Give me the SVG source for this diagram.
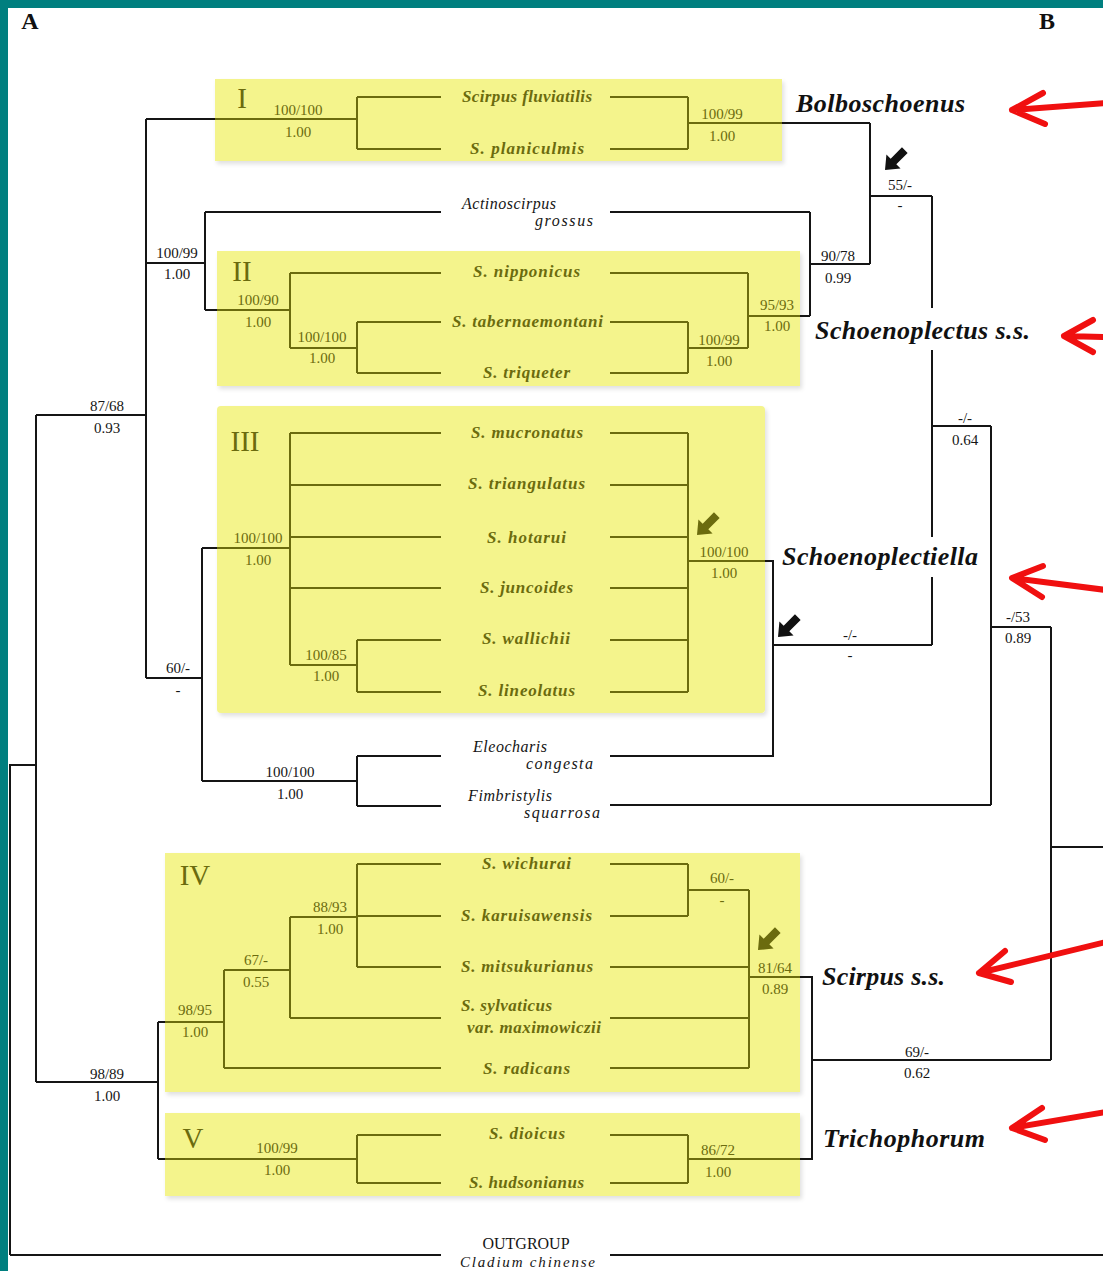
<svg xmlns="http://www.w3.org/2000/svg" width="1103" height="1271" viewBox="0 0 1103 1271">
<style>
.br{fill:none;stroke:#151515;stroke-width:2}
.ol{fill:none;stroke:#6b6b0e;stroke-width:2}
.box{fill:#f4f48c}
.tx{font-family:"Liberation Serif","Times New Roman",serif;font-style:italic;font-weight:bold;font-size:17px;fill:#6b6b0e}
.txb{font-family:"Liberation Serif","Times New Roman",serif;font-style:italic;font-size:16px;fill:#151515}
.sb{font-family:"Liberation Serif","Times New Roman",serif;font-size:15px;fill:#151515;text-anchor:middle}
.so{font-family:"Liberation Serif","Times New Roman",serif;font-size:15px;fill:#6b6b0e;text-anchor:middle}
.rn{font-family:"Liberation Serif","Times New Roman",serif;font-size:29px;fill:#6b6b0e;text-anchor:middle}
.grp{font-family:"Liberation Serif","Times New Roman",serif;font-style:italic;font-weight:bold;font-size:26px;fill:#111}
.lt{font-family:"Liberation Serif","Times New Roman",serif;font-weight:bold;font-size:24px;fill:#111;text-anchor:middle}
.red{fill:none;stroke:#f01010;stroke-width:6;stroke-linecap:round;stroke-linejoin:round}
</style>
<defs>
<filter id="sh" x="-5%" y="-10%" width="110%" height="130%">
<feDropShadow dx="2" dy="3" stdDeviation="2" flood-color="#000" flood-opacity="0.12"/>
</filter>
<path id="barrow" d="M0,0 L-12,-10 L-12,-4 L-28,-4 L-28,4 L-12,4 L-12,10 Z" transform="rotate(135)"/>
</defs>
<rect x="0" y="0" width="1103" height="1271" fill="#ffffff"/>
<rect x="0" y="0" width="1103" height="8" fill="#007f7f"/>
<rect x="0" y="0" width="8" height="1271" fill="#007f7f"/>
<text class="lt" x="30" y="29">A</text>
<text class="lt" x="1047" y="29">B</text>

<g id="clade-I"><rect class="box" x="215" y="79" width="567" height="82" filter="url(#sh)"/><text class="rn" x="242" y="108">I</text></g>
<g id="clade-II"><rect class="box" x="217" y="251" width="583" height="135" filter="url(#sh)"/><text class="rn" x="242" y="281">II</text></g>
<g id="clade-III"><rect class="box" x="217" y="406" width="548" height="307" rx="4" filter="url(#sh)"/><text class="rn" x="245" y="451">III</text></g>
<g id="clade-IV"><rect class="box" x="165" y="853" width="635" height="239" filter="url(#sh)"/><text class="rn" x="195" y="885">IV</text></g>
<g id="clade-V"><rect class="box" x="165" y="1113" width="635" height="83" filter="url(#sh)"/><text class="rn" x="193" y="1148">V</text></g>

<g id="connectors">
<path class="br" d="M10,1255 V765 H36 M10,1255 H441 M610,1255 H1103
M36,415 V1082 M36,415 H146 M36,1082 H158
M146,119 V678 M146,119 H215 M146,263 H205 M146,678 H202
M205,212 V310 M205,212 H441 M205,310 H217
M610,212 H810 M810,212 V316 M800,316 H810 M810,264 H870
M782,123 H870 M870,123 V264 M870,196 H932
M932,196 V308 M932,350 V537 M932,577 V645 M773,645 H932 M932,426 H991
M202,548 V781 M202,548 H217 M202,781 H357 M357,756 V806 M357,756 H441 M357,806 H441
M765,561 H773 V756 H610
M610,805 H991 M991,426 V805 M991,627 H1051 M1051,627 V1060 M1051,847 H1103 M812,1060 H1051
M158,1022 V1159 M158,1022 H165 M158,1159 H165
M800,977 H812 V1159 H800"/>
<path class="ol" d="M215,119 H357 M357,97 V149 M357,97 H441 M357,149 H441 M610,97 H688 M610,149 H688 M688,97 V149 M688,123 H782
M217,310 H290 M290,273 V348 M290,273 H441 M290,348 H357 M357,322 V373 M357,322 H441 M357,373 H441 M610,273 H748 M610,322 H688 M610,373 H688 M688,322 V373 M688,348 H748 M748,273 V348 M748,316 H800
M217,548 H290 M290,433 V665 M290,433 H441 M290,485 H441 M290,537 H441 M290,588 H441 M290,665 H357 M357,640 V692 M357,640 H441 M357,692 H441
M610,433 H688 M610,485 H688 M610,537 H688 M610,588 H688 M610,640 H688 M610,692 H688 M688,433 V692 M688,561 H765
M165,1022 H224 M224,970 V1068 M224,970 H290 M224,1068 H441 M290,917 V1018 M290,917 H357 M290,1018 H441 M357,864 V967 M357,864 H441 M357,916 H441 M357,967 H441
M610,864 H688 M610,916 H688 M688,864 V916 M688,890 H749 M749,890 V1068 M610,967 H749 M610,1018 H749 M610,1068 H749 M749,977 H800
M165,1159 H357 M357,1135 V1183 M357,1135 H441 M357,1183 H441 M610,1135 H688 M610,1183 H688 M688,1135 V1183 M688,1159 H800"/>
</g>

<g id="support-values">
<text class="sb" x="177" y="258">100/99</text><text class="sb" x="177" y="279">1.00</text>
<text class="sb" x="107" y="411">87/68</text><text class="sb" x="107" y="433">0.93</text>
<text class="sb" x="178" y="673">60/-</text><text class="sb" x="178" y="695">-</text>
<text class="sb" x="290" y="777">100/100</text><text class="sb" x="290" y="799">1.00</text>
<text class="sb" x="107" y="1079">98/89</text><text class="sb" x="107" y="1101">1.00</text>
<text class="sb" x="838" y="261">90/78</text><text class="sb" x="838" y="283">0.99</text>
<text class="sb" x="900" y="190">55/-</text><text class="sb" x="900" y="210">-</text>
<text class="sb" x="965" y="423">-/-</text><text class="sb" x="965" y="445">0.64</text>
<text class="sb" x="850" y="640">-/-</text><text class="sb" x="850" y="660">-</text>
<text class="sb" x="1018" y="622">-/53</text><text class="sb" x="1018" y="643">0.89</text>
<text class="sb" x="917" y="1057">69/-</text><text class="sb" x="917" y="1078">0.62</text>
<text class="so" x="298" y="115">100/100</text><text class="so" x="298" y="137">1.00</text>
<text class="so" x="722" y="119">100/99</text><text class="so" x="722" y="141">1.00</text>
<text class="so" x="258" y="305">100/90</text><text class="so" x="258" y="327">1.00</text>
<text class="so" x="322" y="342">100/100</text><text class="so" x="322" y="363">1.00</text>
<text class="so" x="719" y="345">100/99</text><text class="so" x="719" y="366">1.00</text>
<text class="so" x="777" y="310">95/93</text><text class="so" x="777" y="331">1.00</text>
<text class="so" x="258" y="543">100/100</text><text class="so" x="258" y="565">1.00</text>
<text class="so" x="326" y="660">100/85</text><text class="so" x="326" y="681">1.00</text>
<text class="so" x="724" y="557">100/100</text><text class="so" x="724" y="578">1.00</text>
<text class="so" x="330" y="912">88/93</text><text class="so" x="330" y="934">1.00</text>
<text class="so" x="256" y="965">67/-</text><text class="so" x="256" y="987">0.55</text>
<text class="so" x="195" y="1015">98/95</text><text class="so" x="195" y="1037">1.00</text>
<text class="so" x="722" y="883">60/-</text><text class="so" x="722" y="905">-</text>
<text class="so" x="775" y="973">81/64</text><text class="so" x="775" y="994">0.89</text>
<text class="so" x="277" y="1153">100/99</text><text class="so" x="277" y="1175">1.00</text>
<text class="so" x="718" y="1155">86/72</text><text class="so" x="718" y="1177">1.00</text>
</g>

<g id="taxa">
<g id="t-fluviatilis"><text class="tx" x="462" y="102" textLength="130" lengthAdjust="spacing">Scirpus fluviatilis</text></g>
<g id="t-planiculmis"><text class="tx" x="470" y="154" textLength="114" lengthAdjust="spacing">S. planiculmis</text></g>
<g id="t-grossus"><text class="txb" x="462" y="209" textLength="94" lengthAdjust="spacing">Actinoscirpus</text><text class="txb" x="535" y="226" textLength="58" lengthAdjust="spacing">grossus</text></g>
<g id="t-nipponicus"><text class="tx" x="473" y="277" textLength="107" lengthAdjust="spacing">S. nipponicus</text></g>
<g id="t-tabernaemontani"><text class="tx" x="452" y="327" textLength="151" lengthAdjust="spacing">S. tabernaemontani</text></g>
<g id="t-triqueter"><text class="tx" x="483" y="378" textLength="87" lengthAdjust="spacing">S. triqueter</text></g>
<g id="t-mucronatus"><text class="tx" x="471" y="438" textLength="112" lengthAdjust="spacing">S. mucronatus</text></g>
<g id="t-triangulatus"><text class="tx" x="468" y="489" textLength="117" lengthAdjust="spacing">S. triangulatus</text></g>
<g id="t-hotarui"><text class="tx" x="487" y="543" textLength="79" lengthAdjust="spacing">S. hotarui</text></g>
<g id="t-juncoides"><text class="tx" x="480" y="593" textLength="93" lengthAdjust="spacing">S. juncoides</text></g>
<g id="t-wallichii"><text class="tx" x="482" y="644" textLength="88" lengthAdjust="spacing">S. wallichii</text></g>
<g id="t-lineolatus"><text class="tx" x="478" y="696" textLength="97" lengthAdjust="spacing">S. lineolatus</text></g>
<g id="t-congesta"><text class="txb" x="473" y="752" textLength="74" lengthAdjust="spacing">Eleocharis</text><text class="txb" x="526" y="769" textLength="67" lengthAdjust="spacing">congesta</text></g>
<g id="t-squarrosa"><text class="txb" x="468" y="801" textLength="84" lengthAdjust="spacing">Fimbristylis</text><text class="txb" x="524" y="818" textLength="76" lengthAdjust="spacing">squarrosa</text></g>
<g id="t-wichurai"><text class="tx" x="482" y="869" textLength="89" lengthAdjust="spacing">S. wichurai</text></g>
<g id="t-karuisawensis"><text class="tx" x="461" y="921" textLength="131" lengthAdjust="spacing">S. karuisawensis</text></g>
<g id="t-mitsukurianus"><text class="tx" x="461" y="972" textLength="132" lengthAdjust="spacing">S. mitsukurianus</text></g>
<g id="t-sylvaticus"><text class="tx" x="461" y="1011" textLength="91" lengthAdjust="spacing">S. sylvaticus</text><text class="tx" x="467" y="1033" textLength="134" lengthAdjust="spacing">var. maximowiczii</text></g>
<g id="t-radicans"><text class="tx" x="483" y="1074" textLength="87" lengthAdjust="spacing">S. radicans</text></g>
<g id="t-dioicus"><text class="tx" x="489" y="1139" textLength="76" lengthAdjust="spacing">S. dioicus</text></g>
<g id="t-hudsonianus"><text class="tx" x="469" y="1188" textLength="115" lengthAdjust="spacing">S. hudsonianus</text></g>
<g id="t-outgroup"><text class="sb" x="526" y="1249" style="font-size:16px">OUTGROUP</text><text class="txb" x="460" y="1267" textLength="135" lengthAdjust="spacing" style="font-size:15px">Cladium chinense</text></g>
</g>

<g id="genus-labels">
<g id="g-bolboschoenus"><text class="grp" x="796" y="112" textLength="169" lengthAdjust="spacing">Bolboschoenus</text></g>
<g id="g-schoenoplectus"><text class="grp" x="815" y="339" textLength="215" lengthAdjust="spacing">Schoenoplectus s.s.</text></g>
<g id="g-schoenoplectiella"><text class="grp" x="782" y="565" textLength="196" lengthAdjust="spacing">Schoenoplectiella</text></g>
<g id="g-scirpus"><text class="grp" x="822" y="985" textLength="123" lengthAdjust="spacing">Scirpus s.s.</text></g>
<g id="g-trichophorum"><text class="grp" x="823" y="1147" textLength="162" lengthAdjust="spacing">Trichophorum</text></g>
</g>

<g id="markers">
<use href="#barrow" x="885" y="170" fill="#111"/>
<use href="#barrow" x="778" y="637" fill="#111"/>
<use href="#barrow" x="697" y="535" fill="#6b6b0e"/>
<use href="#barrow" x="758" y="950" fill="#6b6b0e"/>
</g>

<g id="red-arrows">
<path class="red" d="M1106,103 L1012,110 M1043,93 L1012,110 L1045,124"/>
<path class="red" d="M1106,337 L1064,336 M1093,320 L1064,336 L1093,352"/>
<path class="red" d="M1106,590 L1012,578 M1043,566 L1012,578 L1042,597"/>
<path class="red" d="M1106,942 L979,973 M1005,951 L979,973 L1011,982"/>
<path class="red" d="M1106,1112 L1012,1128 M1042,1108 L1012,1128 L1045,1140"/>
</g>
</svg>
